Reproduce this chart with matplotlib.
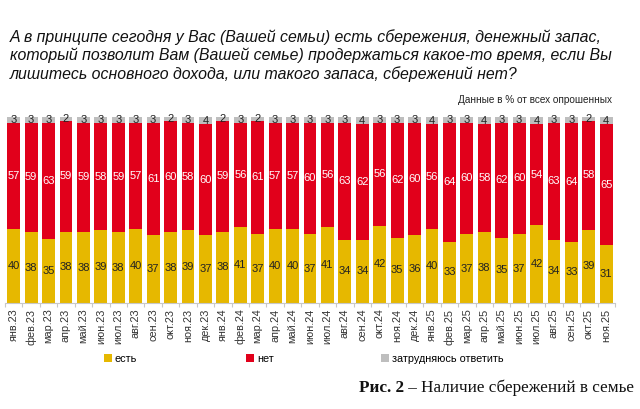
import matplotlib
matplotlib.use("Agg")
import matplotlib.pyplot as plt
import numpy as np

months = ["янв.23", "фев.23", "мар.23", "апр.23", "май.23", "июн.23", "июл.23", "авг.23",
          "сен.23", "окт.23", "ноя.23", "дек.23",
          "янв.24", "фев.24", "мар.24", "апр.24", "май.24", "июн.24", "июл.24", "авг.24",
          "сен.24", "окт.24", "ноя.24", "дек.24",
          "янв.25", "фев.25", "мар.25", "апр.25", "май.25", "июн.25", "июл.25", "авг.25",
          "сен.25", "окт.25", "ноя.25"]
yes_vals = [40, 38, 35, 38, 38, 39, 38, 40, 37, 38, 39, 37,
            38, 41, 37, 40, 40, 37, 41, 34, 34, 42, 35, 36,
            40, 33, 37, 38, 35, 37, 42, 34, 33, 39, 31]
no_vals = [57, 59, 63, 59, 59, 58, 59, 57, 61, 60, 58, 60,
           59, 56, 61, 57, 57, 60, 56, 63, 62, 56, 62, 60,
           56, 64, 60, 58, 62, 60, 54, 63, 64, 58, 65]
dk_vals = [3, 3, 3, 2, 3, 3, 3, 3, 3, 2, 3, 4,
           2, 3, 2, 3, 3, 3, 3, 3, 4, 3, 3, 3,
           4, 3, 3, 4, 3, 3, 4, 3, 3, 2, 4]
series_names = ["есть", "нет", "затрудняюсь ответить"]

c_yes = "#E6B800"
c_no = "#E1001B"
c_dk = "#BEBEBE"

W, H = 640, 409
fig = plt.figure(figsize=(W / 100, H / 100), dpi=100)
fig.patch.set_facecolor("white")

ax = fig.add_axes([5 / W, 1 - 303 / H, 610 / W, 186 / H])
x = np.arange(len(months))
yes = np.array(yes_vals, dtype=float)
no = np.array(no_vals, dtype=float)
dk = np.array(dk_vals, dtype=float)
tot = yes + no + dk
yes_p, no_p, dk_p = yes / tot * 100, no / tot * 100, dk / tot * 100

bw = 0.74
b1 = ax.bar(x, yes_p, bw, color=c_yes, label=series_names[0])
b2 = ax.bar(x, no_p, bw, bottom=yes_p, color=c_no, label=series_names[1])
b3 = ax.bar(x, dk_p, bw, bottom=yes_p + no_p, color=c_dk, label=series_names[2])

fs = 8
fam = "Liberation Sans"
for i in range(len(x)):
    ax.text(x[i], yes_p[i] / 2, str(yes_vals[i]), ha="center", va="center", fontsize=fs,
            color="#222222", family=fam)
    ax.text(x[i], yes_p[i] + no_p[i] / 2, str(no_vals[i]), ha="center", va="center",
            fontsize=fs, color="white", family=fam)
    ax.text(x[i], yes_p[i] + no_p[i] + dk_p[i] / 2, str(dk_vals[i]), ha="center",
            va="center", fontsize=fs, color="#222222", family=fam)

ax.set_xlim(-0.5, len(months) - 0.5)
ax.set_ylim(0, 100)
ax.set_yticks([])
for s in ["top", "right", "left"]:
    ax.spines[s].set_visible(False)
ax.spines["bottom"].set_color("#C8C8C8")
ax.spines["bottom"].set_linewidth(0.8)
ax.set_xticks(x)
ax.set_xticklabels(months, rotation=90, fontsize=7.8, color="#333333", family=fam)
ax.tick_params(axis="x", length=0, pad=4)
ax.set_xticks(np.arange(-0.5, len(months), 1.0), minor=True)
ax.tick_params(axis="x", which="minor", length=3, color="#C8C8C8", width=0.8)

# Title
title = ("А в принципе сегодня у Вас (Вашей семьи) есть сбережения, денежный запас,\n"
         "который позволит Вам (Вашей семье) продержаться какое-то время, если Вы\n"
         "лишитесь основного дохода, или такого запаса, сбережений нет?")
fig.text(10 / W, 1 - 29 / H, title, ha="left", va="top", fontsize=11.4,
         style="italic", family=fam, color="#111111", linespacing=1.22)
fig.text(612 / W, 1 - 100 / H, "Данные в % от всех опрошенных", ha="right",
         va="center", fontsize=7.2, family=fam, color="#222222")

# Legend entries
legend_x = [104, 246, 381]
for h, name, lx in zip([b1, b2, b3], series_names, legend_x):
    fig.legend(handles=[h], labels=[name], loc="center left",
               bbox_to_anchor=(lx / W, 1 - 359 / H), frameon=False,
               handlelength=0.7, handleheight=0.7, handletextpad=0.3,
               borderpad=0, borderaxespad=0,
               prop={"family": fam, "size": 7.8})

# Caption
t1 = fig.text(359 / W, 1 - 388 / H, "Рис. 2", ha="left", va="center", fontsize=12.3,
              weight="bold", family="Liberation Serif", color="#111111")
ax.annotate(" – Наличие сбережений в семье", xy=(1, 0.5), xycoords=t1,
            xytext=(0, 0), textcoords="offset points", ha="left", va="center",
            fontsize=12.3, family="Liberation Serif", color="#111111",
            annotation_clip=False)

fig.savefig("out.png", dpi=100, facecolor="white")
